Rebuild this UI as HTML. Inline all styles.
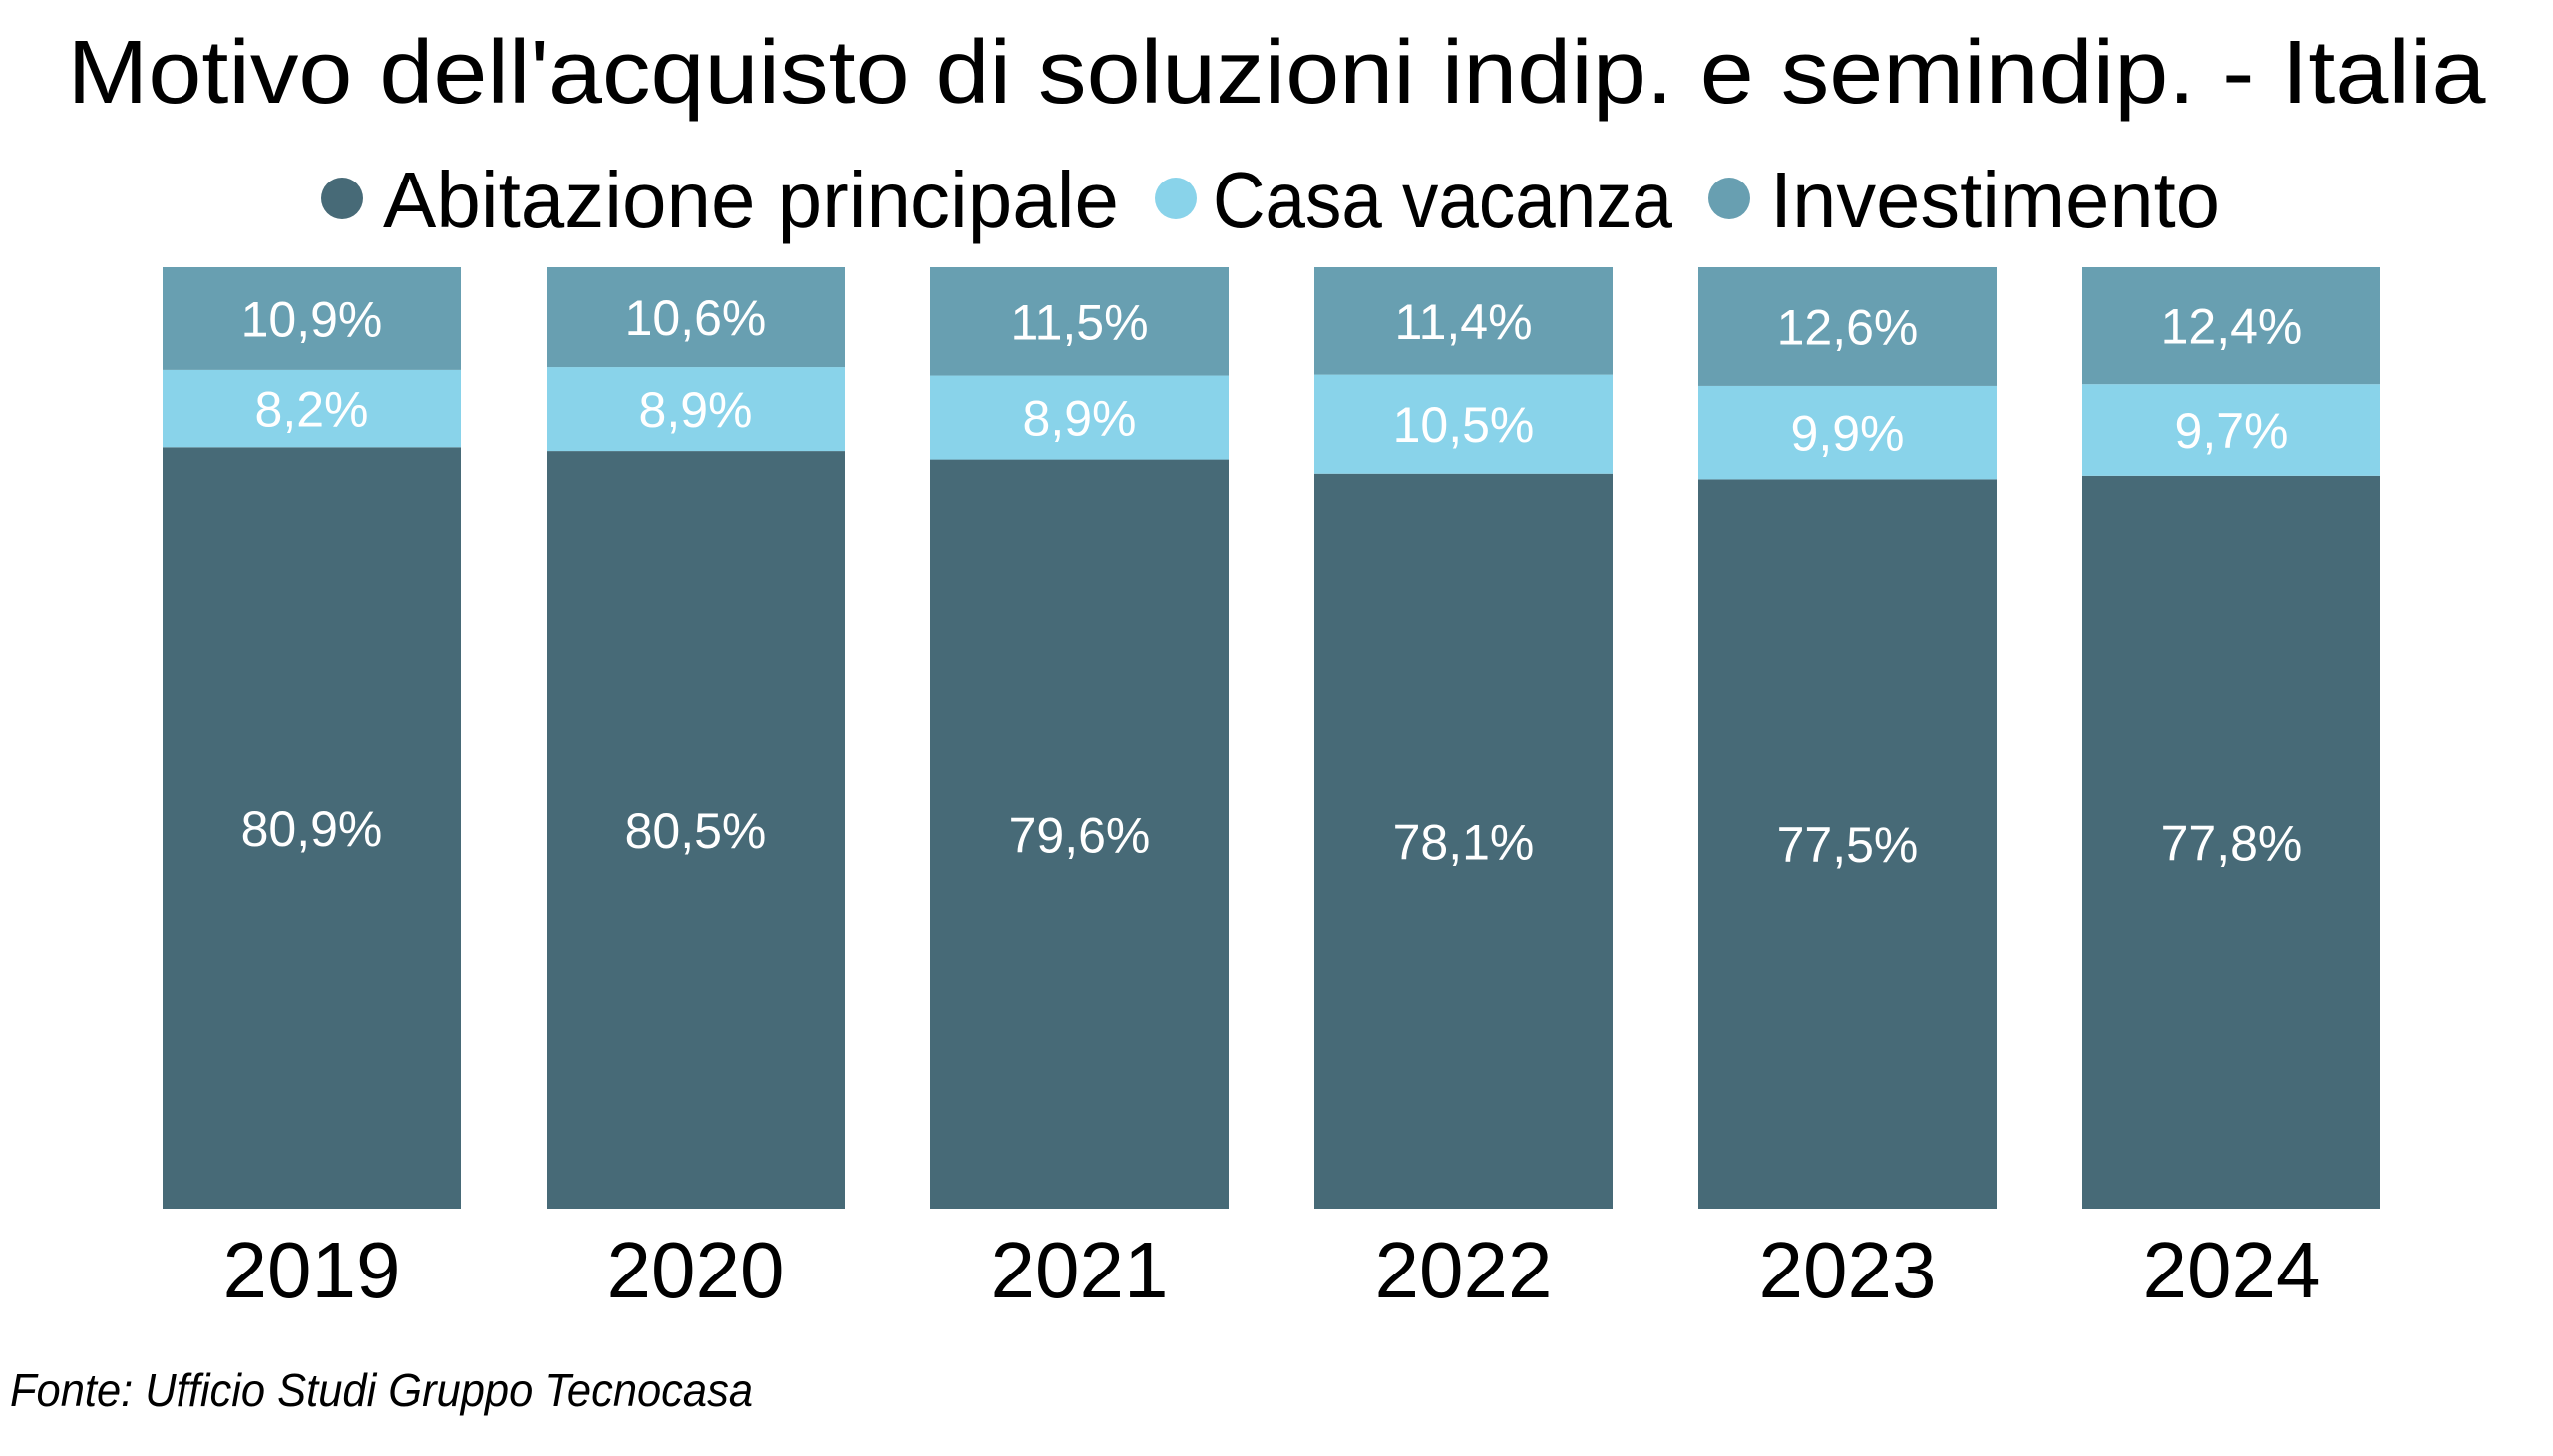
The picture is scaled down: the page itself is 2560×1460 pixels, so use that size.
<!DOCTYPE html>
<html><head><meta charset="utf-8"><style>
html,body{margin:0;padding:0;background:#fff;}
svg{display:block;}
text{font-family:"Liberation Sans",sans-serif;}
</style></head><body>
<svg id="chart" width="2560" height="1460" viewBox="0 0 2560 1460">
<text x="1280" y="103" text-anchor="middle" font-size="90" fill="#000" textLength="2425" lengthAdjust="spacingAndGlyphs">Motivo dell'acquisto di soluzioni indip. e semindip. - Italia</text>
<g>
<g><circle cx="343" cy="199" r="21" fill="#476a77"/><text x="384" y="228" font-size="80" textLength="738" lengthAdjust="spacingAndGlyphs">Abitazione principale</text></g>
<g><circle cx="1179" cy="199" r="21" fill="#89d3ea"/><text x="1216" y="228" font-size="80" textLength="461" lengthAdjust="spacingAndGlyphs">Casa vacanza</text></g>
<g><circle cx="1734" cy="199" r="21" fill="#689fb1"/><text x="1775" y="228" font-size="80" textLength="451" lengthAdjust="spacingAndGlyphs">Investimento</text></g>
</g>
<g id="bars"></g>
<text x="10" y="1410" font-size="46" font-style="italic" fill="#000" textLength="745" lengthAdjust="spacingAndGlyphs">Fonte: Ufficio Studi Gruppo Tecnocasa</text>
</svg>
<script>
const categories = ["2019","2020","2021","2022","2023","2024"];
const abitazione = [80.9,80.5,79.6,78.1,77.5,77.8];
const casaVacanza = [8.2,8.9,8.9,10.5,9.9,9.7];
const investimento = [10.9,10.6,11.5,11.4,12.6,12.4];
const seriesNames = ["Abitazione principale","Casa vacanza","Investimento"];

const NS="http://www.w3.org/2000/svg";
const barsGroup=document.getElementById('bars');
const plotLeft=163, pitch=385, barW=299, plotTop=268, plotBottom=1212;
const colors=["#476a77","#89d3ea","#689fb1"];
const keys=["abitazione","casa-vacanza","investimento"];
function xPos(i){return plotLeft+i*pitch;}
function yScale(v,total){return plotBottom-(v/total)*(plotBottom-plotTop);}
function fmt(v){return v.toFixed(1).replace('.',',')+'%';}
categories.forEach((cat,i)=>{
  const vals=[abitazione[i],casaVacanza[i],investimento[i]];
  const total=vals[0]+vals[1]+vals[2];
  let cum=0;
  vals.forEach((v,s)=>{
    const y0=yScale(cum,total), y1=yScale(cum+v,total);
    cum+=v;
    const r=document.createElementNS(NS,'rect');
    r.setAttribute('x',xPos(i));r.setAttribute('y',y1);
    r.setAttribute('width',barW);r.setAttribute('height',y0-y1);
    r.setAttribute('fill',colors[s]);
    
    
    barsGroup.appendChild(r);
    const t=document.createElementNS(NS,'text');
    t.setAttribute('x',xPos(i)+barW/2);t.setAttribute('y',(y0+y1)/2+18);
    t.setAttribute('text-anchor','middle');t.setAttribute('font-size','50');
    t.setAttribute('fill','#fff');
    t.textContent=fmt(v);
    
    
    barsGroup.appendChild(t);
  });
  const xl=document.createElementNS(NS,'text');
  xl.setAttribute('x',xPos(i)+barW/2);xl.setAttribute('y',1301);
  xl.setAttribute('text-anchor','middle');xl.setAttribute('font-size','80');
  xl.setAttribute('fill','#000');
  xl.textContent=cat;
  
  
  barsGroup.appendChild(xl);
});
</script>
</body></html>
